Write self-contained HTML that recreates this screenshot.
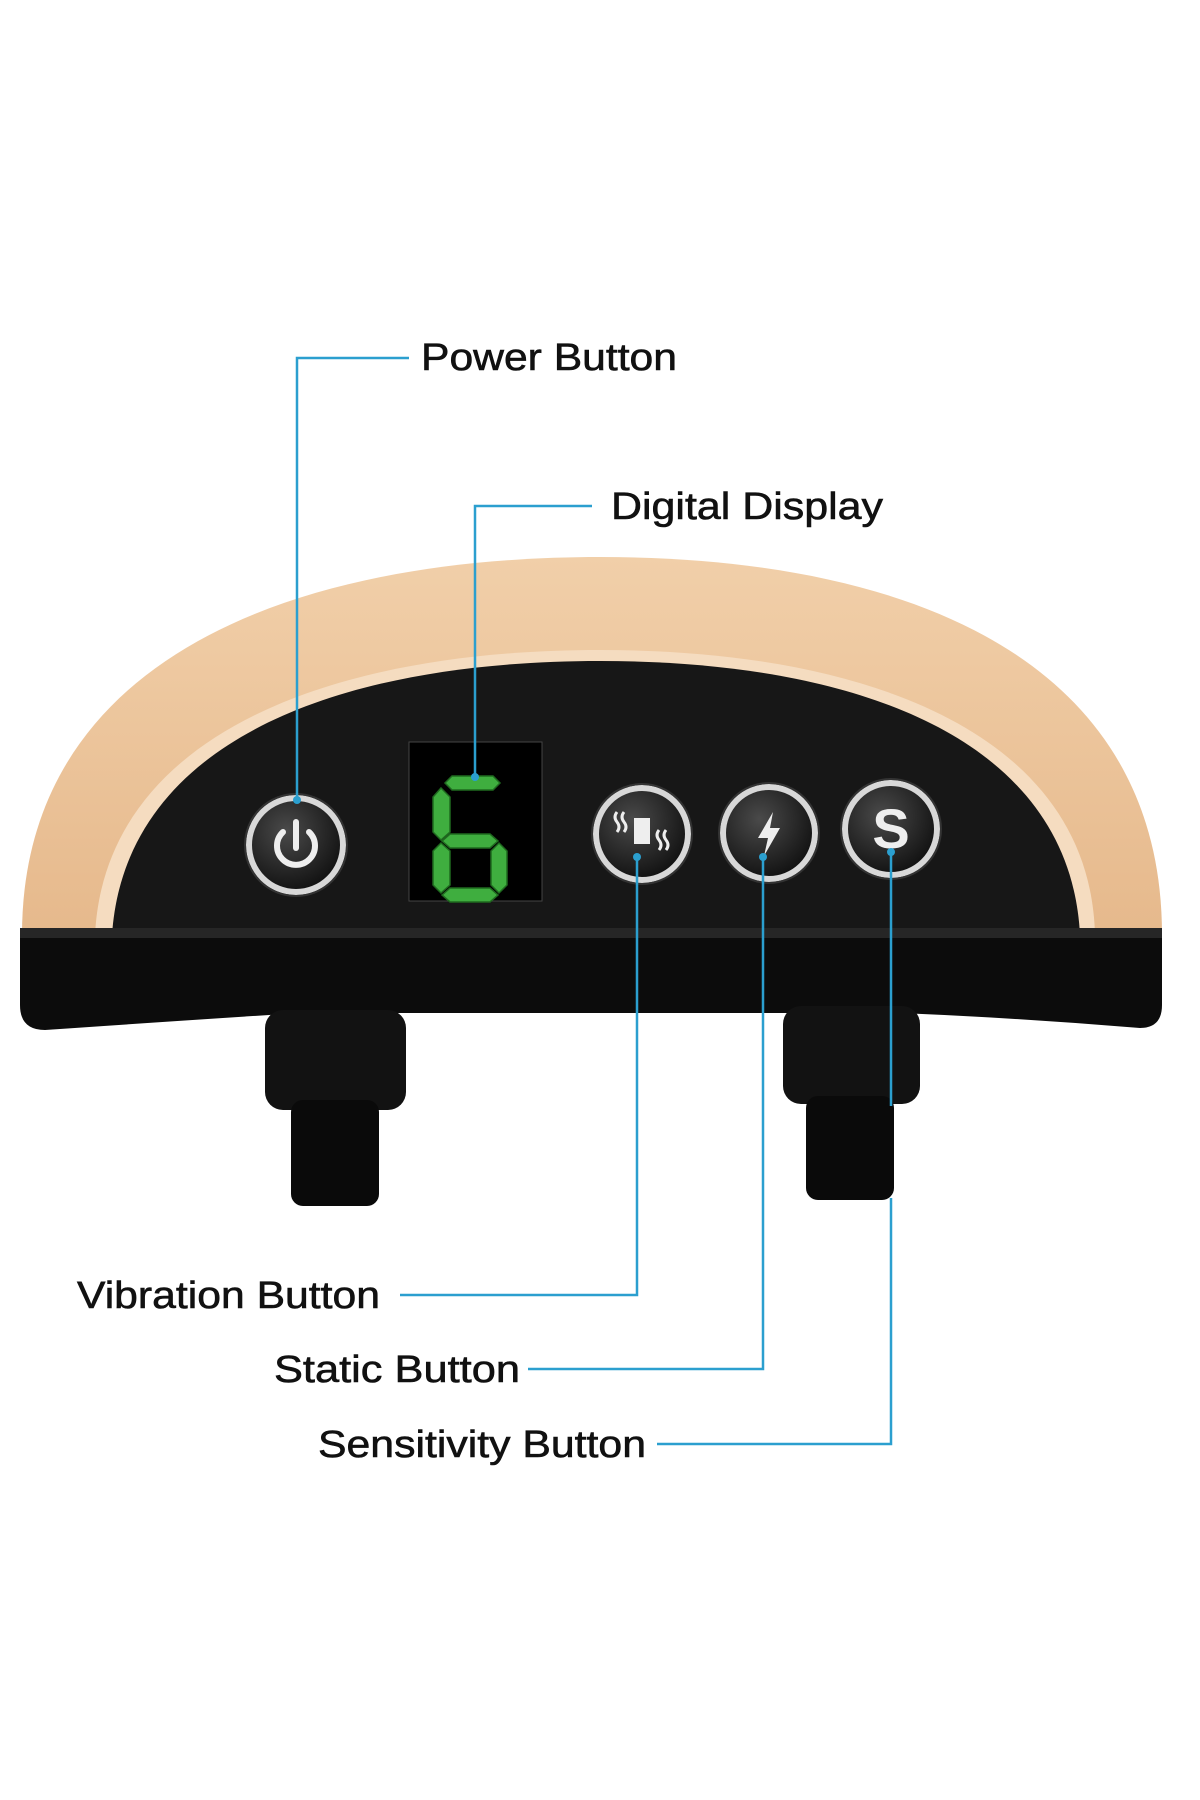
<!DOCTYPE html>
<html><head><meta charset="utf-8"><style>html,body{margin:0;padding:0;background:#fff}svg{display:block}</style></head>
<body>
<svg width="1200" height="1800" viewBox="0 0 1200 1800" xmlns="http://www.w3.org/2000/svg" font-family="Liberation Sans, Arial, sans-serif">
<defs>
<linearGradient id="tan" x1="0" y1="0" x2="0" y2="1">
<stop offset="0" stop-color="#f1cfa9"/><stop offset="1" stop-color="#e6b98c"/></linearGradient>
<radialGradient id="btn" cx="0.4" cy="0.35" r="0.7">
<stop offset="0" stop-color="#4a4a4a"/><stop offset="1" stop-color="#0e0e0e"/></radialGradient>
</defs>
<rect width="1200" height="1800" fill="#fff"/>
<!-- dome -->
<path d="M22,935 C22,660 290,557 600,557 C910,557 1162,660 1162,935 Z" fill="url(#tan)"/>
<path d="M95,935 C105,735 330,650 600,650 C870,650 1090,735 1095,935 Z" fill="#f5dcc0"/>
<path d="M112,935 C125,740 340,661 600,661 C860,661 1070,740 1080,935 Z" fill="#171717"/>
<!-- base band -->
<path d="M20,928 L1162,928 L1162,1005 Q1162,1028 1140,1028 Q1020,1018 900,1013 L300,1013 Q160,1022 45,1030 Q20,1030 20,1005 Z" fill="#0c0c0c"/>
<rect x="20" y="928" width="1142" height="10" fill="#262626"/>
<!-- legs -->
<rect x="265" y="1010" width="141" height="100" rx="18" fill="#121212"/>
<rect x="291" y="1100" width="88" height="106" rx="12" fill="#0a0a0a"/>
<rect x="783" y="1006" width="137" height="98" rx="18" fill="#121212"/>
<rect x="806" y="1096" width="88" height="104" rx="12" fill="#0a0a0a"/>
<!-- display -->
<rect x="409" y="742" width="133" height="159" fill="#000" stroke="#444" stroke-width="1"/>
<g fill="#3fae3f" stroke="#1f6a1f" stroke-width="1.5">
<polygon points="452,776 493,776 500,783 493,790 452,790 445,783"/>
<polygon points="441,788 450,797 450,832 441,840 433,832 433,797"/>
<polygon points="450,834 490,834 498,841 490,848 450,848 442,841"/>
<polygon points="441,843 450,851 450,885 441,893 433,885 433,851"/>
<polygon points="499,843 507,851 507,885 499,893 491,885 491,851"/>
<polygon points="450,888 490,888 498,895 490,902 450,902 442,895"/>
</g>
<!-- buttons -->
<g stroke="#d8d8d8" stroke-width="6" fill="url(#btn)">
<circle cx="296" cy="845" r="47"/>
<circle cx="642" cy="834" r="46"/>
<circle cx="769" cy="833" r="46"/>
<circle cx="891" cy="829" r="46"/>
</g>
<g stroke="#333" stroke-width="2" fill="none">
<circle cx="296" cy="845" r="51"/><circle cx="642" cy="834" r="50"/><circle cx="769" cy="833" r="50"/><circle cx="891" cy="829" r="50"/>
</g>
<path d="M283,832 A19,19 0 1 0 309,832" fill="none" stroke="#eee" stroke-width="6" stroke-linecap="round"/>
<line x1="296" y1="822" x2="296" y2="848" stroke="#eee" stroke-width="6" stroke-linecap="round"/>
<rect x="634" y="818" width="16" height="26" fill="#eee"/>
<path d="M617,812 q-4,5 0,10 q4,5 0,10 M624,812 q-4,5 0,10 q4,5 0,10 M659,830 q-4,5 0,10 q4,5 0,10 M666,830 q-4,5 0,10 q4,5 0,10" fill="none" stroke="#eee" stroke-width="3"/>
<polygon points="773,812 758,838 768,838 764,856 780,828 770,828" fill="#eee"/>
<text x="891" y="848" font-size="56" font-weight="bold" fill="#eee" text-anchor="middle">S</text>
<!-- connectors -->
<g stroke="#2b9fcf" stroke-width="2.5" fill="none">
<polyline points="409,358 297,358 297,800"/>
<polyline points="592,506 475,506 475,777"/>
<polyline points="400,1295 637,1295 637,857"/>
<polyline points="528,1369 763,1369 763,857"/>
<polyline points="891,852 891,1106"/>
<polyline points="657,1444 891,1444 891,1198"/>
</g>
<g fill="#2b9fcf">
<circle cx="297" cy="800" r="4"/><circle cx="475" cy="777" r="4"/><circle cx="637" cy="857" r="4"/><circle cx="763" cy="857" r="4"/><circle cx="891" cy="852" r="4"/>
</g>
<g fill="#111" font-size="38" stroke="#111" stroke-width="0.6">
<text x="421" y="370" textLength="256" lengthAdjust="spacingAndGlyphs">Power Button</text>
<text x="611" y="519" textLength="272" lengthAdjust="spacingAndGlyphs">Digital Display</text>
<text x="77" y="1308" textLength="303" lengthAdjust="spacingAndGlyphs">Vibration Button</text>
<text x="274" y="1382" textLength="246" lengthAdjust="spacingAndGlyphs">Static Button</text>
<text x="318" y="1457" textLength="328" lengthAdjust="spacingAndGlyphs">Sensitivity Button</text>
</g>
</svg>
</body></html>
